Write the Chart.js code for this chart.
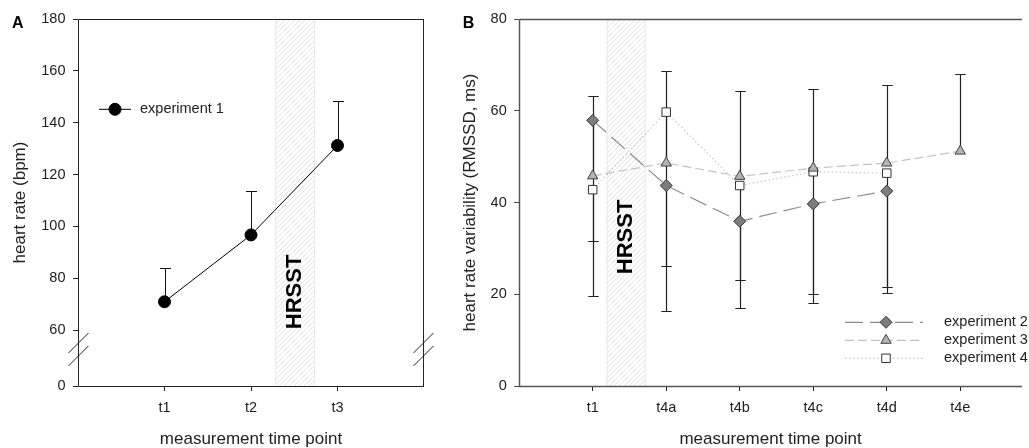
<!DOCTYPE html>
<html>
<head>
<meta charset="utf-8">
<script src="https://cdn.jsdelivr.net/npm/chart.js@4.4.1/dist/chart.umd.min.js"></script>
<style>
  html, body { margin: 0; padding: 0; background: #fff; overflow: hidden; }
  #wrap { position: relative; width: 1029px; height: 448px; }
  canvas { position: absolute; top: 0; }
  #chartA { left: 0; }
  #chartB { left: 440px; }
</style>
</head>
<body>
<div id="wrap">
  <canvas id="chartA" width="480" height="448"></canvas>
  <canvas id="chartB" width="589" height="448"></canvas>
</div>
<script>
// panel A data
const labelsA = ['t1', 't2', 't3'];
const hrExp1 = [70.9, 96.7, 131.2];
const hrExp1Sd = [12.9, 16.8, 17.2];
const yTicksA = [0, 60, 80, 100, 120, 140, 160, 180];
const hrsstA = [2.28, 2.74];

// panel B data
const labelsB = ['t1', 't4a', 't4b', 't4c', 't4d', 't4e'];
const rmssdExp2 = [57.9, 43.7, 35.9, 39.7, 42.5, null];
const rmssdExp3 = [45.8, 48.6, 45.7, 47.5, 48.6, 51.2];
const rmssdExp4 = [42.8, 59.7, 43.7, 46.7, 46.4, null];
const sdExp2 = [38.2, 27.4, 18.9, 21.7, 22.3, null];
const sdExp3 = [17.4, 20.0, 18.7, 17.3, 17.0, 16.8];
const sdExp4 = [11.3, 33.5, 20.6, 26.7, 24.9, null];
const yTicksB = [0, 20, 40, 60, 80];
const hrsstB = [1.19, 1.72];

const FONT = "'Liberation Sans', Arial, sans-serif";
Chart.defaults.font.family = FONT;
Chart.defaults.color = '#222';

// axis A is broken between 0 and 60: the "0" tick sits at this axis value
const axisZeroA = 38.4;
const toAxisA = v => (v === 0 ? axisZeroA : v);

const toPoints = (vals) => vals.map((v, i) => ({ x: i + 1, y: v })).filter(p => p.y != null);

// hatch tile for the HRSST band
const hatch = (() => {
  const c = document.createElement('canvas');
  c.width = 5; c.height = 5;
  const g = c.getContext('2d');
  g.strokeStyle = '#e3e3e3';
  g.lineWidth = 1;
  g.beginPath();
  g.moveTo(0, 5); g.lineTo(5, 0);
  g.moveTo(-1, 1); g.lineTo(1, -1);
  g.moveTo(4, 6); g.lineTo(6, 4);
  g.stroke();
  return c;
})();

const decor = {
  id: 'decor',
  beforeDatasetsDraw(chart, args, o) {
    const { ctx, chartArea: a, scales: { x, y } } = chart;
    // shaded HRSST band
    const x0 = x.getPixelForValue(o.band[0]);
    const x1 = x.getPixelForValue(o.band[1]);
    ctx.save();
    ctx.fillStyle = ctx.createPattern(hatch, 'repeat');
    ctx.fillRect(x0, a.top, x1 - x0, a.bottom - a.top);
    ctx.strokeStyle = '#e8e8e8';
    ctx.lineWidth = 1;
    ctx.beginPath();
    ctx.moveTo(x0 + 0.5, a.top); ctx.lineTo(x0 + 0.5, a.bottom);
    ctx.moveTo(x1 - 0.5, a.top); ctx.lineTo(x1 - 0.5, a.bottom);
    ctx.stroke();
    ctx.translate((x0 + x1) / 2, y.getPixelForValue(o.bandTextAt));
    ctx.rotate(-Math.PI / 2);
    ctx.font = 'bold 22px ' + FONT;
    ctx.fillStyle = '#000';
    ctx.textAlign = 'center';
    ctx.textBaseline = 'middle';
    ctx.fillText('HRSST', 0, 0);
    ctx.restore();

    // error bars (one-sided)
    ctx.save();
    ctx.strokeStyle = o.errColor;
    ctx.lineWidth = o.errWidth;
    chart.data.datasets.forEach(ds => {
      if (!ds.errors) return;
      ds.data.forEach(p => {
        const e = ds.errors[p.x - 1];
        if (e == null) return;
        const px = Math.round(x.getPixelForValue(p.x)) + 0.5;
        const py0 = y.getPixelForValue(p.y);
        const py1 = Math.round(y.getPixelForValue(p.y + ds.errDir * e)) + 0.5;
        ctx.beginPath();
        ctx.moveTo(px, py0); ctx.lineTo(px, py1);
        ctx.moveTo(px - o.cap, py1); ctx.lineTo(px + o.cap, py1);
        ctx.stroke();
      });
    });
    ctx.restore();
  },
  afterDraw(chart, args, o) {
    const { ctx, chartArea: a, scales: { y } } = chart;
    ctx.save();
    // frame
    ctx.strokeStyle = o.frameColor;
    ctx.lineWidth = o.frameWidth;
    const L = Math.round(a.left) + 0.5, R = Math.round(a.right) - 0.5;
    const T = Math.round(a.top) + 0.5, B = Math.round(a.bottom) + 0.5;
    ctx.beginPath();
    ctx.moveTo(L, T); ctx.lineTo(L, B); ctx.lineTo(a.right, B);
    ctx.moveTo(L, T); ctx.lineTo(a.right, T);
    if (o.rightSide) { ctx.moveTo(R, T); ctx.lineTo(R, B); }
    ctx.stroke();

    // axis break marks
    if (o.breaks) {
      ctx.strokeStyle = '#222';
      ctx.lineWidth = 1;
      [L, R].forEach(ax => {
        o.breaks.forEach(v => {
          const py = y.getPixelForValue(v);
          ctx.beginPath();
          ctx.moveTo(ax - 10, py + 10);
          ctx.lineTo(ax + 10, py - 10);
          ctx.stroke();
        });
      });
    }

    // legend
    const lg = o.legend;
    chart.data.datasets.forEach((ds, i) => {
      const ly = lg.ys[i];
      ctx.save();
      ctx.strokeStyle = ds.borderColor;
      ctx.lineWidth = ds.borderWidth;
      ctx.setLineDash(ds.borderDash || []);
      ctx.beginPath();
      ctx.moveTo(lg.x0, ly); ctx.lineTo(lg.x1, ly);
      ctx.stroke();
      ctx.setLineDash([]);
      ctx.fillStyle = ds.pointBackgroundColor;
      ctx.strokeStyle = ds.pointBorderColor;
      ctx.lineWidth = 1;
      Chart.helpers.drawPoint(ctx, { pointStyle: ds.pointStyle, radius: ds.pointRadius, rotation: 0, borderWidth: 1 }, lg.mx, ly);
      ctx.restore();
      ctx.fillStyle = '#222';
      ctx.font = '14.5px ' + FONT;
      ctx.textAlign = 'left';
      ctx.textBaseline = 'middle';
      ctx.fillText(ds.label, lg.tx, ly);
    });

    // panel letter
    ctx.fillStyle = '#000';
    ctx.font = 'bold 16px ' + FONT;
    ctx.textAlign = 'left';
    ctx.textBaseline = 'alphabetic';
    ctx.fillText(o.panel[0], o.panel[1], o.panel[2]);
    ctx.restore();
  }
};

const xAxis = (labels, max, height) => ({
  type: 'linear',
  min: 0,
  max: max,
  afterBuildTicks: ax => { ax.ticks = labels.map((l, i) => ({ value: i + 1 })); },
  ticks: { callback: (v, i) => labels[i], font: { size: 14.5 }, color: '#222', padding: 8, autoSkip: false, maxRotation: 0 },
  grid: { drawOnChartArea: false, drawTicks: true, tickLength: 5, color: '#222' },
  border: { display: false },
  title: { display: true, text: 'measurement time point', font: { size: 17 }, color: '#222', padding: { top: 0, bottom: -2 } },
  afterFit: ax => { ax.height = height; }
});

new Chart(document.getElementById('chartA'), {
  type: 'line',
  data: {
    datasets: [{
      label: 'experiment 1',
      data: toPoints(hrExp1),
      errors: hrExp1Sd,
      errDir: 1,
      borderColor: '#000',
      borderWidth: 1,
      pointStyle: 'circle',
      pointRadius: 6,
      pointBackgroundColor: '#000',
      pointBorderColor: '#000',
      pointBorderWidth: 1,
      fill: false,
      tension: 0
    }]
  },
  options: {
    responsive: false,
    animation: false,
    devicePixelRatio: 1,
    layout: { padding: { left: 0, top: 19, right: 56, bottom: 0 } },
    scales: {
      x: xAxis(labelsA, 4, 62),
      y: {
        type: 'linear',
        min: toAxisA(0),
        max: 180,
        afterBuildTicks: ax => { ax.ticks = yTicksA.map(v => ({ value: toAxisA(v) })); },
        ticks: { callback: (v, i) => yTicksA[i], font: { size: 14.5 }, color: '#222', padding: 7.5 },
        grid: { drawOnChartArea: false, drawTicks: true, tickLength: 5, color: '#222' },
        border: { display: false },
        title: { display: true, text: 'heart rate (bpm)', font: { size: 17 }, color: '#222', padding: { top: 10, bottom: 0 } },
        afterFit: ax => { ax.width = 78; }
      }
    },
    plugins: {
      legend: { display: false },
      tooltip: { enabled: false },
      decor: {
        band: hrsstA,
        bandTextAt: 74.7,
        errColor: '#111',
        errWidth: 1,
        cap: 5.5,
        frameColor: '#222',
        frameWidth: 1,
        rightSide: true,
        breaks: [55, 50],
        legend: { x0: 99, x1: 131, mx: 115, tx: 140, ys: [109.3] },
        panel: ['A', 12, 28]
      }
    }
  },
  plugins: [decor]
});

new Chart(document.getElementById('chartB'), {
  type: 'line',
  data: {
    datasets: [{
      label: 'experiment 2',
      data: toPoints(rmssdExp2),
      errors: sdExp2,
      errDir: -1,
      borderColor: '#8c8c8c',
      borderWidth: 1.2,
      borderDash: [18, 7],
      pointStyle: 'rectRot',
      pointRadius: 6,
      pointBackgroundColor: '#7d7d7d',
      pointBorderColor: '#333',
      pointBorderWidth: 1,
      fill: false,
      tension: 0
    }, {
      label: 'experiment 3',
      data: toPoints(rmssdExp3),
      errors: sdExp3,
      errDir: 1,
      borderColor: '#c4c4c4',
      borderWidth: 1.2,
      borderDash: [9, 4],
      pointStyle: 'triangle',
      pointRadius: 6,
      pointBackgroundColor: '#b3b3b3',
      pointBorderColor: '#444',
      pointBorderWidth: 1,
      fill: false,
      tension: 0
    }, {
      label: 'experiment 4',
      data: toPoints(rmssdExp4),
      errors: sdExp4,
      errDir: -1,
      borderColor: '#c6c6c6',
      borderWidth: 1.2,
      borderDash: [1.5, 2.5],
      pointStyle: 'rect',
      pointRadius: 6,
      pointBackgroundColor: '#fff',
      pointBorderColor: '#333',
      pointBorderWidth: 1,
      fill: false,
      tension: 0
    }]
  },
  options: {
    responsive: false,
    animation: false,
    devicePixelRatio: 1,
    layout: { padding: { left: 0, top: 19, right: 0, bottom: 0 } },
    scales: {
      x: xAxis(labelsB, 6.84, 62),
      y: {
        type: 'linear',
        min: 0,
        max: 80,
        afterBuildTicks: ax => { ax.ticks = yTicksB.map(v => ({ value: v })); },
        ticks: { callback: (v, i) => yTicksB[i], font: { size: 14.5 }, color: '#222', padding: 7.5 },
        grid: { drawOnChartArea: false, drawTicks: true, tickLength: 5, color: '#444' },
        border: { display: false },
        title: { display: true, text: 'heart rate variability (RMSSD, ms)', font: { size: 17 }, color: '#222', padding: { top: 20, bottom: 0 } },
        afterFit: ax => { ax.width = 79.2; }
      }
    },
    plugins: {
      legend: { display: false },
      tooltip: { enabled: false },
      decor: {
        band: hrsstB,
        bandTextAt: 32.5,
        errColor: '#222',
        errWidth: 1.2,
        cap: 5.2,
        frameColor: '#555',
        frameWidth: 1.5,
        rightSide: false,
        breaks: null,
        legend: { x0: 405, x1: 483, mx: 446, tx: 504, ys: [322.3, 340.3, 358.3] },
        panel: ['B', 22.7, 28]
      }
    }
  },
  plugins: [decor]
});
</script>
</body>
</html>
